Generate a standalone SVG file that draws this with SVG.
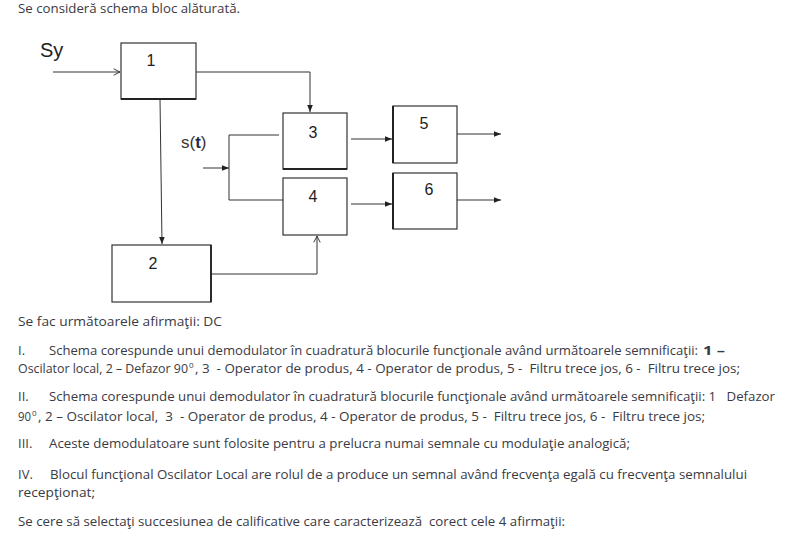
<svg xmlns="http://www.w3.org/2000/svg" width="800" height="547" viewBox="0 0 800 547">
<defs>
<style>
.t{font-family:"Open Sans","Noto Sans",sans-serif;font-size:13px;fill:#3a3a44}
.s{font-family:"Open Sans","Noto Sans",sans-serif;font-size:8px;fill:#3a3a44}
.b{fill:#fff;stroke:#333;stroke-width:1.2}
.lb{font-family:"Liberation Sans",Arial,sans-serif;font-size:16px;fill:#222;text-anchor:middle}
.w{fill:none;stroke:#333;stroke-width:1}
</style>
<marker id="af" viewBox="0 0 10 10" refX="10" refY="5" markerWidth="7" markerHeight="7" orient="auto" markerUnits="userSpaceOnUse"><path d="M0,1 L10,5 L0,9 z" fill="#222"/></marker>
<marker id="ao" viewBox="0 0 10 10" refX="10" refY="5" markerWidth="8" markerHeight="8" orient="auto" markerUnits="userSpaceOnUse"><path d="M2,1 L10,5 L2,9" fill="none" stroke="#333" stroke-width="1.2"/></marker>
</defs>
<rect width="800" height="547" fill="#fff"/>
<text class="t" x="18" y="13" textLength="222" lengthAdjust="spacingAndGlyphs">Se consideră schema bloc alăturată.</text>
<text x="40" y="57" style="font-family:'Liberation Sans',Arial,sans-serif;font-size:20px;fill:#222">Sy</text>
<text x="181" y="148" style="font-family:'Liberation Sans',Arial,sans-serif;font-size:17px;fill:#3a3330">s(<tspan font-weight="bold" fill="#1f2a44">t</tspan>)</text>
<g id="connectors">
<path class="w" d="M53,72 H120" marker-end="url(#ao)"/>
<path class="w" d="M196,72 H310 V112" marker-end="url(#af)"/>
<path class="w" d="M160,99 L162,244" marker-end="url(#af)"/>
<path class="w" d="M211,274 H317 V236" marker-end="url(#ao)"/>
<path class="w" d="M203,168 H229" marker-end="url(#af)"/>
<path class="w" d="M279,135 H229 V200 H283"/>
<path class="w" d="M351,139 H392" marker-end="url(#af)"/>
<path class="w" d="M351,204 H392" stroke-width="1.6" marker-end="url(#af)"/>
<path class="w" d="M457,134 H501" marker-end="url(#af)"/>
<path class="w" d="M457,200 H501" marker-end="url(#af)"/>
</g>
<g id="n1"><rect class="b" x="121" y="43" width="75" height="56"/><line x1="121" y1="99" x2="196" y2="99" stroke="#222" stroke-width="2"/><text class="lb" x="151" y="66">1</text></g>
<g id="n2"><rect class="b" x="112" y="245" width="99" height="57"/><line x1="211" y1="245" x2="211" y2="302" stroke="#222" stroke-width="1.8"/><text class="lb" x="153" y="269">2</text></g>
<g id="n3"><rect class="b" x="283" y="113" width="64" height="56"/><line x1="283" y1="169" x2="347" y2="169" stroke="#222" stroke-width="2"/><text class="lb" x="313" y="138">3</text></g>
<g id="n4"><rect class="b" x="283" y="178" width="64" height="57"/><text class="lb" x="313" y="202">4</text></g>
<g id="n5"><rect class="b" x="393" y="106" width="64" height="57"/><line x1="393" y1="106" x2="393" y2="163" stroke="#222" stroke-width="2"/><text class="lb" x="424" y="129">5</text></g>
<g id="n6"><rect class="b" x="393" y="173" width="64" height="56"/><line x1="393" y1="173" x2="393" y2="229" stroke="#222" stroke-width="2"/><text class="lb" x="429" y="195">6</text></g>
<text class="t" x="18" y="326" textLength="204" lengthAdjust="spacingAndGlyphs">Se fac următoarele afirmaţii: DC</text>
<text class="t" x="18" y="355">I.</text>
<text class="t" x="49" y="355" textLength="649" lengthAdjust="spacingAndGlyphs">Schema corespunde unui demodulator în cuadratură blocurile funcţionale având următoarele semnificaţii:</text>
<text class="t" x="703" y="355" font-weight="bold" textLength="22" lengthAdjust="spacingAndGlyphs">1 –</text>
<text class="t" x="18" y="373" textLength="170" lengthAdjust="spacingAndGlyphs">Oscilator local, 2 – Defazor 90</text>
<text class="s" x="189" y="368">0</text>
<text class="t" x="195" y="373" textLength="545" lengthAdjust="spacingAndGlyphs" xml:space="preserve">, 3  - Operator de produs, 4 - Operator de produs, 5 -  Filtru trece jos, 6 -  Filtru trece jos;</text>
<text class="t" x="18" y="401">II.</text>
<text class="t" x="49" y="401" textLength="726" lengthAdjust="spacingAndGlyphs" xml:space="preserve">Schema corespunde unui demodulator în cuadratură blocurile funcţionale având următoarele semnificaţii: 1   Defazor</text>
<text class="t" x="18" y="421" textLength="13" lengthAdjust="spacingAndGlyphs">90</text>
<text class="s" x="32" y="416">0</text>
<text class="t" x="38" y="421" textLength="667" lengthAdjust="spacingAndGlyphs" xml:space="preserve">, 2 – Oscilator local,  3  - Operator de produs, 4 - Operator de produs, 5 -  Filtru trece jos, 6 -  Filtru trece jos;</text>
<text class="t" x="18" y="448">III.</text>
<text class="t" x="49" y="448" textLength="581" lengthAdjust="spacingAndGlyphs">Aceste demodulatoare sunt folosite pentru a prelucra numai semnale cu modulaţie analogică;</text>
<text class="t" x="18" y="479">IV.</text>
<text class="t" x="50" y="479" textLength="697" lengthAdjust="spacingAndGlyphs">Blocul funcţional Oscilator Local are rolul de a produce un semnal având frecvenţa egală cu frecvenţa semnalului</text>
<text class="t" x="18" y="497" textLength="77" lengthAdjust="spacingAndGlyphs">recepţionat;</text>
<text class="t" x="18" y="526" textLength="547" lengthAdjust="spacingAndGlyphs" xml:space="preserve">Se cere să selectaţi succesiunea de calificative care caracterizează  corect cele 4 afirmaţii:</text>
</svg>
